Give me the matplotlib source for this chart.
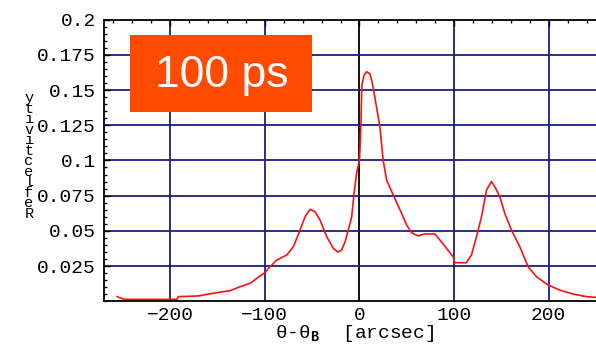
import matplotlib
matplotlib.use("Agg")
import matplotlib.pyplot as plt
from matplotlib.patches import Rectangle
from matplotlib.ticker import FixedLocator, FixedFormatter, MultipleLocator

plt.rcParams['mathtext.fontset'] = 'custom'
plt.rcParams['mathtext.rm'] = 'Liberation Mono'
plt.rcParams['mathtext.bf'] = 'Liberation Mono:bold'

# Rocking-curve reflectivity vs. angular offset from the Bragg angle
angle = [-256, -249, -193, -191.5, -170, -155, -137, -126, -115.5, -105, -100,
         -94.5, -87.4, -76.8, -69.8, -62.8, -57.5, -52.2, -47, -41.7, -34.6,
         -27.6, -23, -19, -15.3, -11.8, -8.2, -5.8, -3, 0, 0.6, 1.5, 2.5, 5,
         7.6, 11, 12.9, 14.6, 18, 21.6, 25, 28.7, 35.7, 44.5, 49.8, 55.1, 62,
         69, 79.7, 85, 92, 99, 100.8, 113, 118.4, 123.7, 129, 134.3, 139.5,
         143, 148.3, 153.6, 160.6, 169.4, 178.2, 187, 199.2, 211.6, 225.6,
         239.8, 249.6]
reflectivity = [0.0033, 0.0014, 0.0014, 0.0033, 0.0038, 0.0057, 0.0075, 0.0104,
                0.0128, 0.018, 0.0203, 0.0246, 0.0293, 0.0329, 0.0388, 0.0506,
                0.060, 0.0653, 0.0636, 0.0577, 0.0459, 0.0376, 0.0350, 0.0362,
                0.0420, 0.0506, 0.060, 0.0760, 0.091, 0.100, 0.109, 0.125,
                0.1535, 0.1607, 0.163, 0.1615, 0.157, 0.151, 0.138, 0.124,
                0.1003, 0.086, 0.0755, 0.0625, 0.0542, 0.0487, 0.0464, 0.0478,
                0.0478, 0.0435, 0.0376, 0.0317, 0.0274, 0.0274, 0.0329, 0.0459,
                0.060, 0.079, 0.085, 0.0814, 0.0743, 0.0625, 0.0506, 0.0388,
                0.0246, 0.0175, 0.0116, 0.008, 0.0052, 0.0033, 0.0028]

x_ticks = [-200, -100, 0, 100, 200]
x_tick_labels = ["\u2212200", "\u2212100", "0", "100", "200"]
y_ticks = [0.025, 0.05, 0.075, 0.1, 0.125, 0.15, 0.175, 0.2]
y_tick_labels = ["0.025", "0.05", "0.075", "0.1", "0.125", "0.15", "0.175", "0.2"]
y_label = "Reflectivity"
x_label = "\u03b8-\u03b8$_\\mathbf{B}$  [arcsec]"
badge_text = "100 ps"

W, H = 596, 347
fig = plt.figure(figsize=(W / 100, H / 100), dpi=100)
ax = fig.add_axes([104 / W, 1 - 301.3 / H, 1 - 104 / W, (301.3 - 19.6) / H])
ax.set_xlim(-270, 250)
ax.set_ylim(0, 0.2)

grid_color = "#1c1c8a"
for gx in x_ticks:
    if gx == 0:
        ax.axvline(gx, color="black", lw=1.3, zorder=1)
    else:
        ax.axvline(gx, color=grid_color, lw=1.3, zorder=1)
for gy in y_ticks[:-1]:
    ax.axhline(gy, color=grid_color, lw=1.3, zorder=1)

ax.plot(angle, reflectivity, color="#ff1010", lw=1.2, zorder=2)

mono = "Liberation Mono"
ax.xaxis.set_major_locator(FixedLocator(x_ticks))
ax.xaxis.set_major_formatter(FixedFormatter(x_tick_labels))
ax.xaxis.set_minor_locator(MultipleLocator(20))
ax.yaxis.set_major_locator(FixedLocator(y_ticks))
ax.yaxis.set_major_formatter(FixedFormatter(y_tick_labels))
ax.yaxis.set_minor_locator(MultipleLocator(0.005))

ax.tick_params(axis="x", which="both", direction="in", bottom=False, top=True,
               labelbottom=True, pad=4, labelsize=14)
ax.tick_params(axis="x", which="major", length=4, width=1)
ax.tick_params(axis="x", which="minor", length=2.5, width=1)
ax.tick_params(axis="y", which="both", direction="in", left=True, right=False,
               pad=6, labelsize=14)
ax.tick_params(axis="y", which="major", length=4, width=1)
ax.tick_params(axis="y", which="minor", length=2.5, width=1)
for lab in ax.get_xticklabels() + ax.get_yticklabels():
    lab.set_fontfamily(mono)

for side in ("left", "bottom", "top"):
    ax.spines[side].set_linewidth(1.3)
ax.spines["right"].set_visible(False)

fig.text(355 / W, 1 - 333 / H, x_label, fontfamily=mono, fontsize=14,
         ha="center", va="center")

# Stacked upright letters for the vertical axis title, read bottom to top
n = len(y_label)
y_top, y_bot = 98 / H, 214 / H
for i, ch in enumerate(y_label):
    yy = y_bot + (y_top - y_bot) * i / (n - 1)
    fig.text(29 / W, 1 - yy, ch, fontfamily=mono, fontsize=11,
             ha="center", va="center")

# Orange time badge
fig.add_artist(Rectangle((130 / W, 1 - 112 / H), (312 - 130) / W, (112 - 35) / H,
                         transform=fig.transFigure, facecolor="#ff4b00",
                         edgecolor="none", zorder=5))
fig.text(222 / W, 1 - 75 / H, badge_text, color="white", fontsize=32,
         fontfamily="Liberation Sans", ha="center", va="center", zorder=6)

fig.savefig("out.png", dpi=100)
